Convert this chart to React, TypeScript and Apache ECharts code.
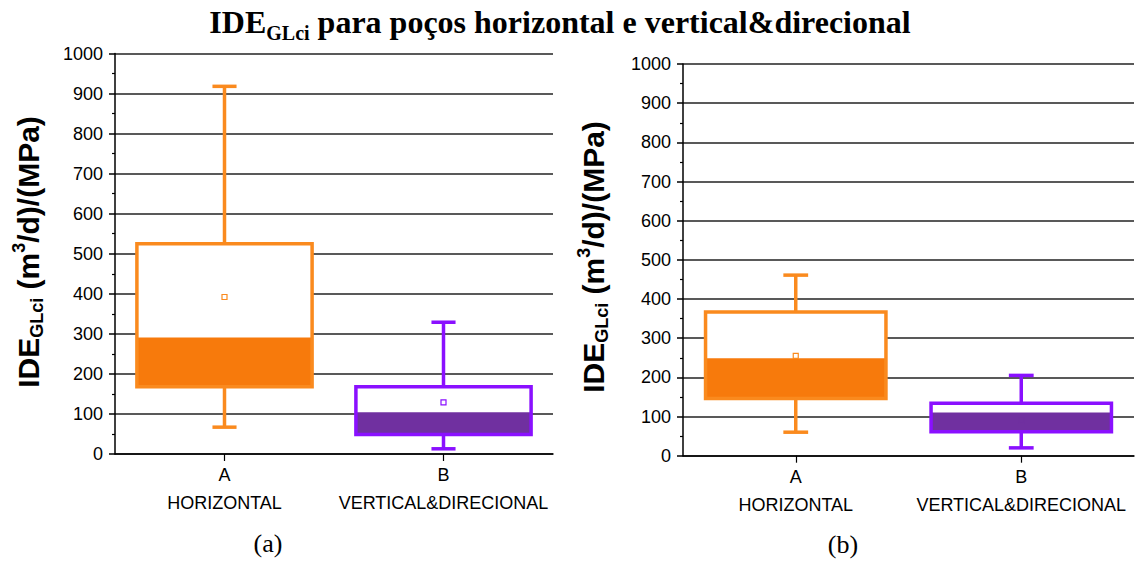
import React, { useEffect, useRef } from "react";
import * as echarts from "echarts";

const categories = ["A\nHORIZONTAL", "B\nVERTICAL&DIRECIONAL"];
const yTicks = [0, 100, 200, 300, 400, 500, 600, 700, 800, 900, 1000];

// panel (a)
const aMin = [67, 13];
const aQ1 = [168, 49];
const aMedian = [291, 104];
const aQ3 = [525, 168];
const aMax = [918, 329];
const aMean = [392, 129];

// panel (b)
const bMin = [60, 20];
const bQ1 = [146, 61];
const bMedian = [249, 110];
const bQ3 = [367, 134];
const bMax = [461, 205];
const bMean = [255, 90];

const strokeColors = ["#FA8A1E", "#8A10FF"];
const fillColors = ["#F77A0C", "#7030A0"];

function buildData(mn: number[], q1: number[], md: number[], q3: number[], mx: number[], mean: number[]) {
  return categories.map((_, i) => [i, mn[i], q1[i], md[i], q3[i], mx[i], mean[i]]);
}

const renderBox = (params: any, api: any) => {
  const idx = api.value(0);
  const mn = api.value(1);
  const q1 = api.value(2);
  const md = api.value(3);
  const q3 = api.value(4);
  const mx = api.value(5);
  const mean = api.value(6);
  const band = api.size([1, 0])[0];
  const bw = band * 0.8;
  const cw = band * 0.11;
  const cx = api.coord([idx, 0])[0];
  const y = (v: number) => api.coord([idx, v])[1];
  const sc = strokeColors[idx];
  const fc = fillColors[idx];
  const lw = 3.5;
  const meanInFill = mean < md;
  return {
    type: "group",
    children: [
      { type: "line", shape: { x1: cx, y1: y(q3), x2: cx, y2: y(mx) }, style: { stroke: sc, lineWidth: lw } },
      { type: "line", shape: { x1: cx - cw / 2, y1: y(mx), x2: cx + cw / 2, y2: y(mx) }, style: { stroke: sc, lineWidth: lw } },
      { type: "line", shape: { x1: cx, y1: y(q1), x2: cx, y2: y(mn) }, style: { stroke: sc, lineWidth: lw } },
      { type: "line", shape: { x1: cx - cw / 2, y1: y(mn), x2: cx + cw / 2, y2: y(mn) }, style: { stroke: sc, lineWidth: lw } },
      { type: "rect", shape: { x: cx - bw / 2, y: y(q3), width: bw, height: y(q1) - y(q3) }, style: { fill: "#ffffff" } },
      { type: "rect", shape: { x: cx - bw / 2, y: y(md), width: bw, height: y(q1) - y(md) }, style: { fill: fc } },
      { type: "rect", shape: { x: cx - bw / 2, y: y(q3), width: bw, height: y(q1) - y(q3) }, style: { fill: "none", stroke: sc, lineWidth: lw } },
      {
        type: "rect",
        shape: { x: cx - 2.5, y: y(mean) - 2.5, width: 5, height: 5 },
        style: { fill: meanInFill ? fc : "#ffffff", stroke: meanInFill ? fc : sc, lineWidth: 1.2 },
      },
    ],
  };
};

const axisFont = "Liberation Sans, Arial, sans-serif";

function makeYAxis(gridIndex: number) {
  return {
    type: "value",
    gridIndex,
    min: 0,
    max: 1000,
    interval: 100,
    axisLine: { show: true, lineStyle: { color: "#000", width: 1.5 } },
    axisTick: { show: true, length: 6, inside: false, lineStyle: { color: "#000", width: 1.5 } },
    minorTick: { show: true, splitNumber: 2, length: 3, lineStyle: { color: "#000", width: 1.2 } },
    splitLine: { show: true, lineStyle: { color: "#222", width: 1.5 } },
    axisLabel: {
      margin: 12,
      color: "#000",
      fontSize: 18,
      fontFamily: axisFont,
      formatter: (v: number) => (yTicks.indexOf(v) >= 0 ? String(v) : ""),
    },
  };
}

function makeXAxis(gridIndex: number) {
  return {
    type: "category",
    gridIndex,
    data: categories,
    boundaryGap: true,
    axisLine: { show: true, lineStyle: { color: "#000", width: 1.5 } },
    axisTick: { show: true, alignWithLabel: true, length: 7, lineStyle: { color: "#000", width: 1.2 } },
    splitLine: { show: false },
    axisLabel: {
      interval: 0,
      margin: 7,
      color: "#000",
      fontSize: 18,
      lineHeight: 28,
      fontFamily: axisFont,
    },
  };
}

const yNameRich = {
  m: { fontSize: 30, fontWeight: "bold", fontFamily: "Liberation Sans, Arial, sans-serif", color: "#000" },
  sub: { fontSize: 18, fontWeight: "bold", fontFamily: "Liberation Sans, Arial, sans-serif", verticalAlign: "bottom", lineHeight: 36, color: "#000" },
  sup: { fontSize: 18, fontWeight: "bold", fontFamily: "Liberation Sans, Arial, sans-serif", verticalAlign: "top", lineHeight: 36, color: "#000" },
};

export default function App() {
  const ref = useRef<HTMLDivElement>(null);
  useEffect(() => {
    if (!ref.current) return;
    const chart = echarts.init(ref.current, undefined, { renderer: "svg" });
    const yNameText = "{m|IDE}{sub|GLci}{m| (m}{sup|3}{m|/d)/(MPa)}";
    chart.setOption({
      animation: false,
      backgroundColor: "#ffffff",
      grid: [
        { left: 115, right: 1135 - 553, top: 53.5, bottom: 561 - 454 },
        { left: 683, right: 1, top: 64, bottom: 561 - 455.7 },
      ],
      xAxis: [makeXAxis(0), makeXAxis(1)],
      yAxis: [makeYAxis(0), makeYAxis(1)],
      series: [
        {
          type: "custom",
          xAxisIndex: 0,
          yAxisIndex: 0,
          renderItem: renderBox,
          encode: { x: 0, y: [1, 2, 3, 4, 5, 6] },
          data: buildData(aMin, aQ1, aMedian, aQ3, aMax, aMean),
          z: 5,
        },
        {
          type: "custom",
          xAxisIndex: 1,
          yAxisIndex: 1,
          renderItem: renderBox,
          encode: { x: 0, y: [1, 2, 3, 4, 5, 6] },
          data: buildData(bMin, bQ1, bMedian, bQ3, bMax, bMean),
          z: 5,
        },
      ],
      graphic: [
        {
          type: "text",
          x: 560,
          y: 22,
          style: {
            text: "{t|IDE}{s|GLci}{t| para poços horizontal e vertical&direcional}",
            align: "center",
            verticalAlign: "middle",
            rich: {
              t: { fontSize: 32, fontWeight: "bold", fontFamily: "Liberation Serif, Times New Roman, serif", color: "#000" },
              s: { fontSize: 20, fontWeight: "bold", fontFamily: "Liberation Serif, Times New Roman, serif", color: "#000", verticalAlign: "bottom", lineHeight: 42 },
            },
          },
        },
        {
          type: "text",
          x: 28,
          y: 252,
          rotation: Math.PI / 2,
          style: { text: yNameText, align: "center", verticalAlign: "middle", rich: yNameRich },
        },
        {
          type: "text",
          x: 593,
          y: 257,
          rotation: Math.PI / 2,
          style: { text: yNameText, align: "center", verticalAlign: "middle", rich: yNameRich },
        },
        {
          type: "text",
          x: 268,
          y: 543,
          style: { text: "(a)", align: "center", verticalAlign: "middle", fontSize: 26, fontFamily: "Liberation Serif, Times New Roman, serif", fill: "#000" },
        },
        {
          type: "text",
          x: 843,
          y: 544,
          style: { text: "(b)", align: "center", verticalAlign: "middle", fontSize: 26, fontFamily: "Liberation Serif, Times New Roman, serif", fill: "#000" },
        },
      ],
    });
    return () => chart.dispose();
  }, []);
  return <div ref={ref} style={{ width: 1135, height: 561, position: "absolute", left: 0, top: 0 }} />;
}
